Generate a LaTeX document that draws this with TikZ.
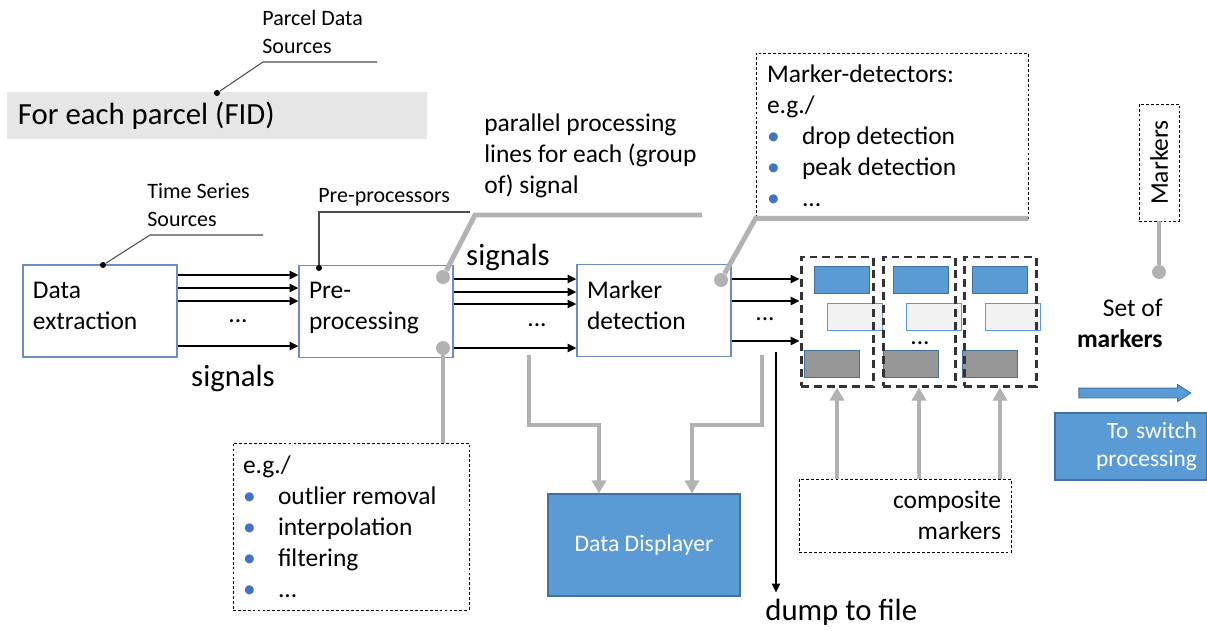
\documentclass[tikz,border=0pt]{standalone}
\usepackage{fontspec}
\usepackage{graphicx}
\setmainfont{Carlito}
\usetikzlibrary{arrows.meta,shapes.arrows}

\definecolor{boxline}{RGB}{106,142,190}
\definecolor{mkblue}{RGB}{91,155,213}
\definecolor{mkedge}{RGB}{65,113,156}
\definecolor{mklight}{RGB}{242,242,242}
\definecolor{mkgray}{RGB}{150,150,150}
\definecolor{banner}{RGB}{231,230,230}
\definecolor{leadgray}{RGB}{178,178,178}
\definecolor{bulblue}{RGB}{68,114,196}

\newcommand{\bul}{\makebox[7mm][l]{\textcolor{bulblue}{\textbullet}}}

\begin{document}
\begin{tikzpicture}[
    x=0.2mm, y=-0.2mm,
    every node/.append style={execute at begin node={\spaceskip=0pt\relax}},
    txt/.style={font=\fontsize{14.5}{17.6}\selectfont},
    bigtxt/.style={font=\fontsize{17.5}{21}\selectfont},
    smalltxt/.style={font=\fontsize{12.5}{16}\selectfont},
    box/.style={draw=boxline, line width=0.6pt, minimum width=30.8mm,
                minimum height=18.4mm, text width=26.8mm, inner xsep=2mm,
                text depth=8.4mm, align=left, txt},
    bluebox/.style={fill=mkblue, draw=mkedge, line width=0.6pt, text=white},
    note/.style={draw, line width=0.5pt, dash pattern=on 1.6pt off 1.2pt,
                 inner xsep=2mm, txt},
    lbl/.style={inner sep=0pt, align=left},
    mrk/.style={fill=#1, draw=mkedge, line width=0.5pt, minimum width=11mm,
                minimum height=5.4mm, inner sep=0pt},
    grp/.style={draw=black!80, line width=1.7pt, dash pattern=on 4.5pt off 2.8pt,
                minimum width=14.4mm, minimum height=25.8mm},
    bdot/.style={circle, fill=black, inner sep=0pt, minimum size=1.2mm},
    gdot/.style={circle, fill=leadgray, inner sep=0pt, minimum size=2.8mm},
    leader/.style={draw=black!70, line width=0.6pt},
    gline/.style={draw=leadgray, line width=2.8pt},
    garrow/.style={gline, -{Triangle[length=7.5pt,width=8pt]}},
    sig/.style={-{Triangle[length=5pt,width=4.5pt]}, line width=1.4pt},
]
\useasboundingbox (0,0) rectangle (1207,630);

\node[fill=banner, minimum width=84mm, minimum height=9.4mm, text width=79.6mm,
      inner xsep=2.2mm, align=left, bigtxt] (fid) at (217,115.5) {For each parcel (FID)};

\node[box] (dex)  at (100,311)   {Data\\extraction};
\node[box] (pre)  at (376,311.5) {Pre-\\processing};
\node[box] (mdet) at (654,310.5) {Marker\\detection};

\node[bluebox, minimum width=38.4mm, minimum height=20.4mm,
      font=\fontsize{13.5}{16}\selectfont] (disp) at (644,545) {Data Displayer};
\node[bluebox, minimum width=30.4mm, minimum height=13.4mm, text width=26.4mm,
      inner xsep=2mm, align=right, font=\fontsize{13.3}{16}\selectfont]
      (sw) at (1131,446.5) {To switch\\processing};

\node[note, minimum width=47.2mm, minimum height=33.4mm, text width=43.2mm, align=left]
      (egpre) at (351,526.5) {e.g./\\\bul outlier removal\\\bul interpolation\\\bul filtering\\\bul ...};
\node[note, minimum width=54.4mm, minimum height=33mm, text width=50mm, inner xsep=2.2mm, align=left]
      (mdbox) at (892,135.5) {Marker-detectors:\\e.g./\\\bul drop detection\\\bul peak detection\\\bul ...};
\node[note, minimum width=42.4mm, minimum height=14.6mm, text width=38.4mm, align=right]
      (comp) at (905,515.5) {composite\\markers};
\node[note, minimum width=8mm, minimum height=23.4mm, inner sep=0pt]
      (mk) at (1159,162.5) {\rotatebox{90}{Markers}};

\foreach \i/\k in {1/0,2/79,3/158} {
    \node[mrk=mkblue] (mb\i) at ({841.5+\k},280) {};
    \node[mrk=mklight, draw=mkblue] (ml\i) at ({855+\k},317) {};
    \node[mrk=mkgray] (mg\i) at ({831.5+\k},363.5) {};
}
\foreach \i/\gx in {1/837,2/919,3/1000}
    \node[grp] (g\i) at (\gx,321.5) {};

\node[lbl, smalltxt, anchor=west] (psrc)  at (262,32)  {Parcel Data\\Sources};
\node[lbl, smalltxt, anchor=west] (tsrc)  at (147,205) {Time Series\\Sources};
\node[lbl, smalltxt, anchor=west] (pproc) at (318,197) {Pre-processors};
\node[lbl, txt, anchor=west] (par) at (484,156) {parallel processing\\lines for each (group\\of) signal};
\node[bigtxt] (sig1) at (233,378) {signals};
\node[bigtxt] (sig2) at (508,257) {signals};
\node[lbl, bigtxt, anchor=west] (dump) at (765,612) {dump to file};
\node[lbl, txt, anchor=east, align=right] (setof) at (1163,323.5) {Set of\\\textbf{markers}};

\node[txt] (dt1) at (238,321) {...};
\node[txt] (dt2) at (537,325) {...};
\node[txt] (dt3) at (765,319) {...};
\node[txt] (dt4) at (920,343) {...};

\node[single arrow, fill=mkblue, draw=mkedge, line width=0.5pt, minimum height=22.4mm,
      inner xsep=0pt, inner ysep=0.9mm, single arrow head extend=0.7mm,
      single arrow tip angle=65] (setarr) at (1131,393) {};

\foreach \y in {275,288,301,346}
    \draw[sig] (dex.east |- 0,\y) -- (pre.west |- 0,\y);
\foreach \y in {279,292,304,348}
    \draw[sig] (pre.east |- 0,\y) -- (mdet.west |- 0,\y);
\foreach \y in {279,301,341}
    \draw[sig] (mdet.east |- 0,\y) -- (g1.west |- 0,\y);

\node[bdot] (bd1) at (217,93) {};
\coordinate (psrc-l) at (263,62);
\draw[leader] (bd1) -- (psrc-l) -- ++(114,0);
\node[bdot] (bd2) at (103,265) {};
\coordinate (tsrc-l) at (150,235);
\draw[leader] (bd2) -- (tsrc-l) -- ++(113,0);
\node[bdot] (bd3) at (319,268) {};
\draw[leader] (bd3) -- ++(0,-56) -- ++(151,0);

\node[gdot] (gd1) at (443,277) {};
\coordinate (par-l) at (475,215);
\draw[gline] (gd1) -- (par-l) -- ++(227,0);
\node[gdot] (gd2) at (443,348) {};
\draw[gline] (gd2) -- (gd2 |- egpre.north);
\node[gdot] (gd3) at (721,280) {};
\draw[gline] (gd3) -- (mdbox.south west) -- (mdbox.south east);
\node[gdot] (gd4) at (1159,272) {};
\draw[gline] (mk.south) -- (gd4);

\coordinate (tapL) at (529,355);
\coordinate (tapR) at (762,355);
\draw[garrow] (tapL) -- ++(0,70) -| ([xshift=-9mm]disp.north);
\draw[garrow] (tapR) -- ++(0,70) -| ([xshift=9.6mm]disp.north);
\foreach \i in {1,2,3}
    \draw[garrow] (comp.north -| g\i.south) -- (g\i.south);

\coordinate (dtap) at (776,352);
\draw[-{Triangle[length=5pt,width=4.5pt]}, line width=1.2pt, shorten >=1.2mm]
    (dtap) -- (dtap |- dump.north);
\end{tikzpicture}
\end{document}
